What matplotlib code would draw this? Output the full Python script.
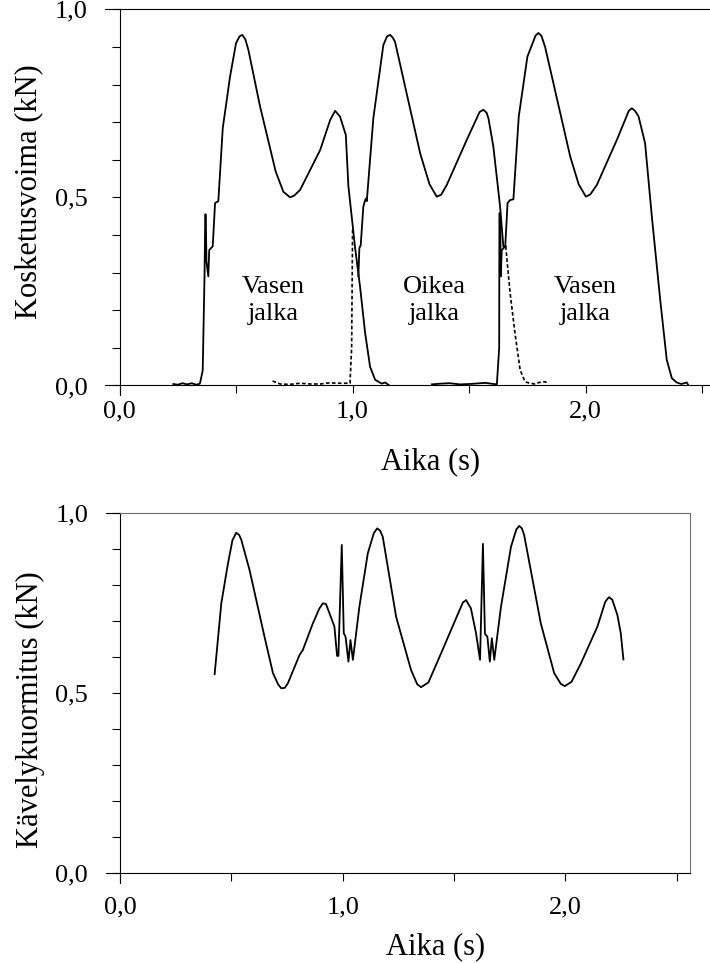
"""
plot.py - contact force and walking load, two panels
"""

import numpy as np
import matplotlib.pyplot as plt
from matplotlib.ticker import FixedLocator

plt.rcParams['font.family'] = ['Liberation Serif', 'DejaVu Serif']

# --- top panel: contact force (kN) ---
# left foot, first step (solid)
step1_t = [0.231, 0.25, 0.27, 0.29, 0.31, 0.33, 0.345, 0.357, 0.365, 0.368,
           0.370, 0.373, 0.381, 0.385, 0.40, 0.41, 0.424, 0.443, 0.474, 0.50,
           0.515, 0.527, 0.540, 0.553, 0.603, 0.670, 0.703, 0.732, 0.750,
           0.775, 0.861, 0.904, 0.925, 0.946, 0.971, 0.982, 1.011, 1.032,
           1.054, 1.075, 1.097, 1.125, 1.14, 1.158]
step1_v = [0.004, 0.002, 0.006, 0.003, 0.006, 0.002, 0.005, 0.04, 0.30, 0.455,
           0.455, 0.33, 0.29, 0.36, 0.37, 0.485, 0.49, 0.684, 0.82, 0.91,
           0.928, 0.932, 0.92, 0.892, 0.742, 0.569, 0.515, 0.50, 0.505,
           0.52, 0.626, 0.706, 0.73, 0.715, 0.666, 0.53, 0.365, 0.263,
           0.139, 0.05, 0.015, 0.005, 0.008, 0.0]

# right foot, solid part
right_t = [1.025, 1.029, 1.035, 1.046, 1.054, 1.058, 1.061, 1.089, 1.132,
           1.148, 1.161, 1.172, 1.182, 1.29, 1.330, 1.361, 1.380, 1.404,
           1.49, 1.545, 1.561, 1.575, 1.583, 1.604, 1.633, 1.647, 1.657]
right_v = [0.29, 0.365, 0.373, 0.475, 0.493, 0.497, 0.49, 0.71, 0.905,
           0.928, 0.932, 0.925, 0.914, 0.617, 0.535, 0.502, 0.507, 0.533,
           0.653, 0.727, 0.733, 0.725, 0.71, 0.635, 0.475, 0.369, 0.37]

# right foot, dashed parts (before and after the solid part)
pre_t = [0.657, 0.689, 0.73, 0.775, 0.82, 0.861, 0.90, 0.946, 0.989, 0.996, 1.0]
pre_v = [0.012, 0.004, 0.003, 0.006, 0.004, 0.004, 0.007, 0.006, 0.006, 0.1, 0.42]
post_t = [1.657, 1.676, 1.697, 1.719, 1.74, 1.76, 1.783, 1.80, 1.826, 1.84]
post_v = [0.37, 0.245, 0.138, 0.041, 0.01, 0.006, 0.004, 0.008, 0.01, 0.004]

# left foot, second step (solid)
step3_t = [1.34, 1.38, 1.418, 1.46, 1.504, 1.569, 1.619, 1.629, 1.630, 1.633,
           1.636, 1.640, 1.655, 1.665, 1.676, 1.69, 1.713, 1.75, 1.785, 1.797,
           1.810, 1.826, 1.934, 1.97, 2.001, 2.02, 2.048, 2.134, 2.185, 2.198,
           2.212, 2.227, 2.255, 2.284, 2.32, 2.348, 2.37, 2.391, 2.41, 2.434,
           2.441]
step3_v = [0.003, 0.005, 0.006, 0.003, 0.004, 0.007, 0.003, 0.1, 0.458, 0.458,
           0.29, 0.36, 0.37, 0.485, 0.493, 0.495, 0.715, 0.874, 0.93, 0.937,
           0.93, 0.9, 0.608, 0.535, 0.502, 0.508, 0.533, 0.653, 0.73, 0.737,
           0.73, 0.715, 0.644, 0.449, 0.227, 0.068, 0.019, 0.008, 0.004, 0.008,
           0.0]

foot_labels = ['Vasen\njalka', 'Oikea\njalka', 'Vasen\njalka']
foot_label_t = [0.66, 1.35, 2.0]
foot_label_v = [0.227, 0.227, 0.227]

# --- bottom panel: walking load (kN) ---
load_t = [0.425, 0.455, 0.485, 0.505, 0.522, 0.535, 0.545, 0.582, 0.649,
          0.687, 0.710, 0.724, 0.740, 0.754, 0.806, 0.821, 0.866, 0.895,
          0.911, 0.925, 0.941, 0.963, 0.975, 0.981, 0.996, 1.005, 1.013,
          1.026, 1.035, 1.046, 1.075, 1.113, 1.140, 1.155, 1.168, 1.18,
          1.24, 1.307, 1.335, 1.352, 1.385, 1.442, 1.509, 1.540, 1.554,
          1.576, 1.599, 1.617, 1.63, 1.639, 1.65, 1.661, 1.67, 1.681,
          1.696, 1.711, 1.756, 1.780, 1.793, 1.805, 1.815, 1.89, 1.95,
          1.98, 1.998, 2.028, 2.07, 2.144, 2.180, 2.196, 2.211, 2.234,
          2.249, 2.261]
load_v = [0.553, 0.75, 0.861, 0.925, 0.946, 0.94, 0.926, 0.842, 0.657,
          0.556, 0.525, 0.514, 0.515, 0.528, 0.606, 0.62, 0.694, 0.735,
          0.75, 0.748, 0.722, 0.685, 0.604, 0.604, 0.912, 0.667, 0.657,
          0.588, 0.648, 0.593, 0.74, 0.889, 0.945, 0.958, 0.952, 0.935,
          0.713, 0.565, 0.525, 0.517, 0.53, 0.611, 0.708, 0.752, 0.759,
          0.736, 0.667, 0.593, 0.915, 0.665, 0.657, 0.588, 0.653, 0.593,
          0.667, 0.74, 0.907, 0.955, 0.965, 0.958, 0.94, 0.694, 0.556,
          0.526, 0.52, 0.532, 0.583, 0.685, 0.755, 0.767, 0.76, 0.717,
          0.667, 0.594]

W, H = 710.0, 963.0
fig = plt.figure(figsize=(7.1, 9.63), dpi=100)


def style_axis(ax, xmax, w_px, h_px, xpad, ypad):
    """Ticks, labels and the small overhangs of the axis lines."""
    ax.set_xlim(0, xmax)
    ax.set_ylim(0, 1.0)
    ax.xaxis.set_major_locator(FixedLocator([0, 1, 2]))
    ax.xaxis.set_minor_locator(FixedLocator([0.5, 1.5, 2.5]))
    ax.set_xticklabels(['0,0', '1,0', '2,0'])
    ax.yaxis.set_major_locator(FixedLocator([0, 0.5, 1.0]))
    ax.yaxis.set_minor_locator(FixedLocator([0.1, 0.2, 0.3, 0.4, 0.6, 0.7,
                                             0.8, 0.9]))
    ax.set_yticklabels(['0,0', '0,5', '1,0'])
    ax.tick_params(which='both', direction='out', length=6, width=0.8,
                   colors='black', labelsize=19)
    ax.tick_params(axis='x', which='both', pad=xpad)
    ax.tick_params(axis='y', which='both', pad=ypad)
    for s in ax.spines.values():
        s.set_linewidth(0.8)
    # axis lines poke out past the corner
    dx = 14.5 / w_px
    dy = 10.0 / h_px
    kw = dict(transform=ax.transAxes, clip_on=False, color='black', lw=0.8)
    ax.plot([-dx, 0], [0, 0], **kw)
    ax.plot([-dx, 0], [1, 1], **kw)
    ax.plot([0, 0], [-dy, 0], **kw)


# top panel
w1, h1 = 606.0, 376.2
ax1 = fig.add_axes([119.5 / W, (H - 385.5) / H, w1 / W, h1 / H])
ax1.plot(step1_t, step1_v, color='black', lw=1.3)
ax1.plot(right_t, right_v, color='black', lw=1.3)
ax1.plot(step3_t, step3_v, color='black', lw=1.3)
ax1.plot(pre_t, pre_v, color='black', lw=1.2, linestyle=(0, (2.2, 1.4)))
ax1.plot(post_t, post_v, color='black', lw=1.2, linestyle=(0, (2.2, 1.4)))
for lab, tx, vy in zip(foot_labels, foot_label_t, foot_label_v):
    ax1.text(tx, vy, lab, ha='center', va='center', fontsize=19,
             linespacing=1.3)
ax1.spines['right'].set_visible(False)
style_axis(ax1, 2.6, w1, h1, xpad=5, ypad=17)
ax1.set_xlabel('Aika (s)', fontsize=22)
ax1.set_ylabel('Kosketusvoima (kN)', fontsize=22)
ax1.xaxis.label.set_va('center')
ax1.yaxis.label.set_va('center')
ax1.xaxis.set_label_coords((431 - 119.5) / w1, (385.5 - 462) / h1)
ax1.yaxis.set_label_coords((29 - 119.5) / w1, (385.5 - 191.5) / h1)

# bottom panel
w2, h2 = 570.0, 360.0
ax2 = fig.add_axes([120.0 / W, (H - 873.3) / H, w2 / W, h2 / H])
ax2.plot(load_t, load_v, color='black', lw=1.3)
style_axis(ax2, 2.56, w2, h2, xpad=11, ypad=17)
ax2.spines['top'].set_color('#6e6e6e')
ax2.spines['right'].set_color('#6e6e6e')
ax2.set_xlabel('Aika (s)', fontsize=22)
ax2.set_ylabel('Kävelykuormitus (kN)', fontsize=22)
ax2.xaxis.label.set_va('center')
ax2.yaxis.label.set_va('center')
ax2.xaxis.set_label_coords((436 - 120) / w2, (873.3 - 947) / h2)
ax2.yaxis.set_label_coords((30 - 120) / w2, (873.3 - 710) / h2)

fig.savefig('out.png', dpi=100)
